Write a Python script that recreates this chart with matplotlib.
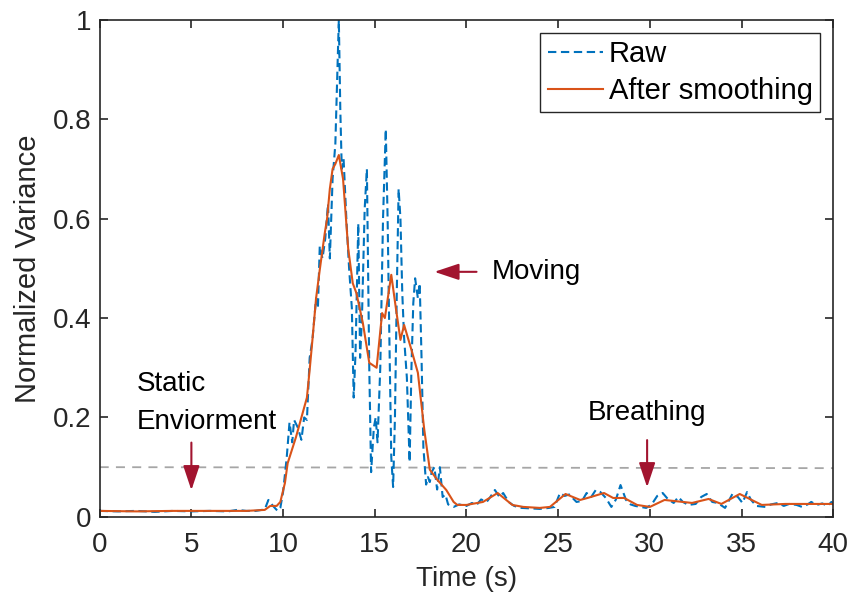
import matplotlib.pyplot as plt

plt.rcParams['font.family'] = ['Liberation Sans', 'DejaVu Sans']

# raw normalized variance
raw_t = [0, 1, 2, 3, 4, 5, 6, 7, 7.5, 8.0, 8.5, 9.0, 9.2, 9.45, 9.7, 9.85,
         10.0, 10.2, 10.35, 10.5, 10.6, 10.8, 11.0, 11.15, 11.3, 11.45, 11.6, 11.8,
         11.9, 12.0, 12.15, 12.3, 12.45, 12.55, 12.7, 12.85, 12.95, 13.04, 13.12,
         13.2, 13.3, 13.45, 13.6, 13.75, 13.85, 13.95, 14.1, 14.2, 14.3, 14.45,
         14.57, 14.7, 14.8, 14.95, 15.05, 15.15, 15.3, 15.45, 15.6, 15.7, 15.8,
         15.9, 16.0, 16.1, 16.2, 16.3, 16.4, 16.5, 16.6, 16.75, 16.9, 17.0, 17.1,
         17.2, 17.35, 17.45, 17.55, 17.65, 17.8, 17.9, 18.0, 18.1, 18.25, 18.4,
         18.55, 18.7, 18.85, 19.0, 19.3, 19.6, 20.0, 20.3, 20.55, 20.8, 21.1, 21.3,
         21.55, 21.8, 22.0, 22.3, 22.6, 23.0, 23.5, 24.0, 24.5, 24.8, 25.1, 25.35,
         25.6, 26.0, 26.3, 26.55, 26.8, 27.05, 27.3, 27.6, 27.9, 28.15, 28.4, 28.7,
         28.95, 29.2, 29.5, 29.8, 30.1, 30.4, 30.7, 31.0, 31.3, 31.55, 31.8, 32.1,
         32.5, 32.8, 33.1, 33.4, 33.7, 34.1, 34.5, 34.8, 35.05, 35.3, 35.5, 35.8,
         36.3, 36.6, 37.0, 37.3, 37.6, 38.0, 38.3, 38.6, 38.8, 39.1, 39.4, 39.7,
         39.9, 40.0]
raw_v = [0.012, 0.011, 0.012, 0.010, 0.012, 0.011, 0.012, 0.011, 0.014, 0.012, 0.012, 0.015, 0.034, 0.022, 0.012, 0.018,
         0.05, 0.12, 0.19, 0.15, 0.195, 0.18, 0.155, 0.2, 0.195, 0.32, 0.356, 0.44,
         0.42, 0.545, 0.52, 0.56, 0.63, 0.52, 0.68, 0.75, 0.88, 1.0, 0.82,
         0.7, 0.72, 0.6, 0.5, 0.42, 0.24, 0.33, 0.59, 0.32, 0.4, 0.62,
         0.7, 0.3, 0.09, 0.18, 0.2, 0.15, 0.3, 0.6, 0.78, 0.6, 0.35,
         0.12, 0.06, 0.2, 0.45, 0.66, 0.6, 0.45, 0.36, 0.28, 0.11, 0.3, 0.43,
         0.48, 0.44, 0.47, 0.32, 0.14, 0.065, 0.08, 0.07, 0.09, 0.1, 0.055,
         0.1, 0.04, 0.045, 0.025, 0.02, 0.025, 0.022, 0.028, 0.024, 0.035, 0.03, 0.04,
         0.054, 0.04, 0.048, 0.03, 0.022, 0.018, 0.017, 0.016, 0.018, 0.02, 0.048, 0.042,
         0.045, 0.03, 0.032, 0.048, 0.04, 0.054, 0.05, 0.038, 0.02, 0.035, 0.064, 0.034,
         0.025, 0.022, 0.02, 0.018, 0.025, 0.042, 0.048, 0.035, 0.028, 0.04, 0.03, 0.024,
         0.026, 0.04, 0.046, 0.03, 0.028, 0.018, 0.046, 0.04, 0.028, 0.05, 0.035, 0.022,
         0.02, 0.025, 0.028, 0.022, 0.026, 0.024, 0.02, 0.025, 0.03, 0.024, 0.027, 0.022,
         0.03, 0.024]

# after smoothing
sm_t = [0, 2, 4, 6, 8, 9.0, 9.3, 9.65, 9.85, 10.1, 10.25, 10.7, 11.0, 11.3, 11.45, 11.6,
        11.8, 12.0, 12.27, 12.4, 12.55, 12.7, 12.85, 13.04, 13.27, 13.55, 13.8, 14.0,
        14.35, 14.7, 15.1, 15.4, 15.55, 15.9, 16.15, 16.4, 16.6, 17.0, 17.35, 17.7,
        18.0, 18.4, 18.9, 19.3, 19.5, 20.0, 20.9, 21.7, 22.5, 23.1, 24.0, 24.55, 25.4,
        26.2, 26.6, 27.5, 28.0, 28.6, 29.3, 30.0, 30.8, 32.3, 33.2, 33.9, 34.9, 36.1,
        37.4, 38.6, 40.0]
sm_v = [0.012, 0.011, 0.012, 0.012, 0.012, 0.014, 0.022, 0.022, 0.03, 0.068, 0.108, 0.16, 0.2, 0.24, 0.296, 0.356,
        0.44, 0.497, 0.57, 0.6, 0.66, 0.7, 0.71, 0.728, 0.68, 0.54, 0.47, 0.45,
        0.39, 0.31, 0.3, 0.41, 0.4, 0.487, 0.42, 0.356, 0.386, 0.336, 0.29, 0.175,
        0.095, 0.075, 0.054, 0.03, 0.024, 0.024, 0.03, 0.048, 0.024, 0.02, 0.018, 0.02, 0.046,
        0.034, 0.038, 0.048, 0.038, 0.038, 0.024, 0.02, 0.034, 0.028, 0.036, 0.026, 0.046, 0.024,
        0.026, 0.026, 0.026]

thresh_x = [0, 40]
thresh_y = [0.1, 0.098]

fig = plt.figure(figsize=(8.52, 6.01), dpi=100)
ax = fig.add_axes([0.117, 0.14, 0.861, 0.827])

ax.plot(thresh_x, thresh_y, color='#a6a6a6', lw=1.3, linestyle=(0, (5, 4)))
ax.plot(raw_t, raw_v, color='#0072BD', lw=1.5, linestyle=(0, (4, 2.2)), label='Raw')
ax.plot(sm_t, sm_v, color='#D95319', lw=1.5, label='After smoothing')

arrow = dict(arrowstyle='-|>,head_length=1.5,head_width=0.5', color='#A2142F', lw=1.5)
ax.annotate('', xy=(5, 0.048), xytext=(5, 0.155), arrowprops=arrow)
ax.annotate('', xy=(29.85, 0.054), xytext=(29.85, 0.16), arrowprops=arrow)
ax.annotate('', xy=(18.1, 0.493), xytext=(20.7, 0.493), arrowprops=arrow)

fs = 20
ax.text(2.0, 0.268, 'Static', fontsize=fs, va='center', ha='left')
ax.text(2.0, 0.19, 'Enviorment', fontsize=fs, va='center', ha='left')
ax.text(29.85, 0.208, 'Breathing', fontsize=fs, va='center', ha='center')
ax.text(21.4, 0.493, 'Moving', fontsize=fs, va='center', ha='left')

ax.set_xlim(0, 40)
ax.set_ylim(0, 1)
ax.set_xticks(range(0, 41, 5))
ax.set_yticks([0, 0.2, 0.4, 0.6, 0.8, 1.0])
ax.set_yticklabels(['0', '0.2', '0.4', '0.6', '0.8', '1'])
ax.tick_params(direction='in', top=True, right=True, labelsize=fs, length=6,
               width=1.2, colors='#262626', labelcolor='#262626')
ax.tick_params(axis='x', pad=11)
ax.tick_params(axis='y', pad=6)
for s in ax.spines.values():
    s.set_linewidth(1.2)
    s.set_color('#262626')

ax.set_xlabel('Time (s)', fontsize=fs, color='#262626', labelpad=6)
ax.set_ylabel('Normalized Variance', fontsize=21, color='#262626', labelpad=8)

leg = ax.legend(loc='upper right', fontsize=21, fancybox=False, framealpha=1,
                edgecolor='#262626', handlelength=1.9, handletextpad=0.2,
                borderaxespad=0.45, borderpad=0.25, labelspacing=0.3)
leg.get_frame().set_linewidth(1.0)

fig.savefig('out.png', dpi=100)
